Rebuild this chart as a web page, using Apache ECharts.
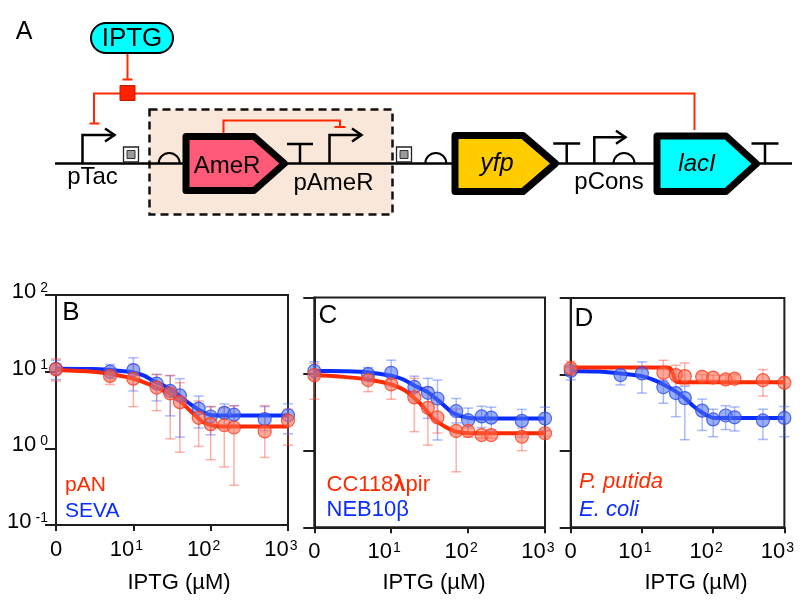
<!DOCTYPE html>
<html><head><meta charset="utf-8">
<script src="https://cdn.jsdelivr.net/npm/echarts@6/dist/echarts.min.js"></script>
<style>html,body{margin:0;padding:0;background:#fff}#c{width:804px;height:602px}</style>
</head><body><div id="c"></div>
<script>
// ---------------- DATA ----------------
// IPTG concentrations (µM); 0 is drawn at the left end of the log axis (labelled "0")
const conc = [0, 5, 10, 20, 30, 40, 70, 100, 150, 200, 500, 1000];
const ZERO_AT = 1;
const xTickVals = [1, 10, 100, 1000];
const xTickLabels = ['0', '10^1', '10^2', '10^3'];
const yTickVals = [0.1, 1, 10, 100];
const yTickLabels = ['10^-1', '10^0', '10^1', '10^2'];

// Panel B: pAN (red) vs SEVA (blue)
const bBlue   = [10.9, 10.0, 10.5, 7.0, 5.6, 4.9, 3.3, 2.6, 2.9, 2.75, 2.4, 2.7];
const bBlueHi = [14.1, 12.4, 15.2, 9.2, 8.9, 8.1, 4.8, 3.5, 3.8, 3.6, 3.5, 3.8];
const bBlueLo = [7.9, 8.1, 5.6, 4.15, 2.65, 1.4, 1.84, 1.5, 2.0, 2.0, 1.7, 1.55];
const bRed    = [10.7, 8.8, 8.1, 6.2, 5.2, 4.0, 2.5, 2.07, 2.0, 1.87, 1.66, 2.3];
const bRedHi  = [14.7, 11.0, 12.4, 9.2, 8.9, 7.2, 4.15, 3.5, 3.4, 3.6, 3.6, 3.25];
const bRedLo  = [7.55, 6.8, 3.5, 3.1, 1.33, 0.89, 1.06, 0.71, 0.57, 0.33, 0.76, 1.1];
const bBlueFitX = [1, 3, 5, 7, 10, 14, 18, 24, 30, 40, 57, 80, 103, 140, 1000];
const bBlueFitY = [10.9, 10.8, 10.5, 10.2, 9.8, 8.8, 7.6, 6.7, 5.9, 4.8, 3.65, 2.95, 2.7, 2.68, 2.68];
const bRedFitX  = [1, 3, 5, 7, 10, 14, 18, 24, 30, 40, 57, 80, 103, 132, 1000];
const bRedFitY  = [10.5, 10.0, 9.4, 8.8, 8.1, 7.2, 6.5, 5.7, 5.1, 4.15, 2.95, 2.2, 2.0, 1.93, 1.93];

// Panel C: CC118λpir (red) vs NEB10β (blue)
const cBlue   = [11.0, 10.0, 10.4, 6.8, 5.7, 4.8, 3.3, 2.5, 2.8, 2.7, 2.45, 2.63];
const cBlueHi = [14.5, 12.2, 15.2, 9.4, 8.8, 8.35, 4.8, 3.6, 3.8, 3.7, 3.46, 3.7];
const cBlueLo = [8.8, 7.9, 7.0, 4.6, 2.64, 1.38, 2.3, 1.7, 2.0, 1.85, 1.5, 1.85];
const cRed    = [9.7, 8.35, 7.35, 4.97, 3.63, 2.72, 1.81, 1.81, 1.6, 1.6, 1.52, 1.69];
const cRedHi  = [13.8, 9.2, 8.5, 8.8, 6.7, 4.6, 3.5, 2.0, 1.75, 1.75, 1.97, 1.8];
const cRedLo  = [4.7, 5.9, 4.7, 1.77, 1.18, 1.7, 0.53, 1.5, 1.45, 1.45, 1.0, 1.55];
const cBlueFitX = [1, 2.4, 5, 10, 14.4, 19.4, 29, 43, 64, 96, 130, 1000];
const cBlueFitY = [11.0, 10.9, 10.6, 9.5, 8.5, 7.2, 5.9, 4.35, 3.1, 2.7, 2.63, 2.63];
const cRedFitX  = [1, 2.4, 5, 10, 13, 15.9, 19.4, 23.7, 29, 35, 43, 52.7, 71, 106, 1000];
const cRedFitY  = [9.7, 9.2, 8.5, 7.35, 6.6, 5.9, 5.0, 4.15, 3.3, 2.65, 2.27, 2.0, 1.77, 1.69, 1.69];

// Panel D: P. putida (red) vs E. coli (blue)
const dBlue   = [11.1, 9.8, 10.3, 6.8, 5.7, 4.9, 3.36, 2.58, 2.9, 2.75, 2.5, 2.7];
const dBlueHi = [12.5, 12.0, 14.6, 8.4, 8.5, 7.0, 4.75, 3.5, 3.9, 3.75, 3.5, 3.8];
const dBlueLo = [8.5, 7.3, 5.7, 4.2, 2.8, 1.4, 1.85, 1.53, 1.9, 1.82, 1.41, 1.53];
const dRed    = [12.0, null, null, 10.5, 9.8, 9.5, 9.3, 9.1, 8.6, 8.8, 8.4, 7.8];
const dRedHi  = [14.8, null, null, 15.3, 13.2, 14.1, 10.0, 9.8, 9.8, 10.0, 11.6, 9.0];
const dRedLo  = [9.8, null, null, 7.65, 8.0, 7.3, 8.5, 8.4, 7.5, 7.7, 5.2, 7.5];
const dBlueFitX = [1, 2.4, 5, 10, 14, 20, 29, 40, 52, 69, 87, 106, 1000];
const dBlueFitY = [11.1, 10.9, 10.3, 9.5, 8.6, 7.4, 6.1, 4.9, 3.9, 3.2, 2.84, 2.7, 2.7];
const dRedFitX  = [1, 10, 22, 25, 27, 29, 31, 40, 1000];
const dRedFitY  = [12.3, 12.3, 12.3, 12.0, 10.5, 8.6, 7.95, 7.9, 7.9];

// ---------------- STYLE ----------------
const FONT = 'Liberation Sans, Arial, Helvetica, sans-serif';
const RED = '#ff2a00', BLUE = '#0a2cff';
const AX = '#1e1e1e';
const xPos = conc.map(c => c === 0 ? ZERO_AT : c);

function pts(ys) { const o = []; ys.forEach((y, i) => { if (y != null) o.push([xPos[i], y]); }); return o; }
function bars(lo, hi) { const o = []; lo.forEach((l, i) => { if (l != null) o.push([xPos[i], l, hi[i]]); }); return o; }
function fit(xs, ys) { return xs.map((x, i) => [x, ys[i]]); }

function errSeries(idx, lo, hi, color) {
  return {
    type: 'custom', xAxisIndex: idx, yAxisIndex: idx, z: 2, silent: true,
    data: bars(lo, hi), encode: { x: 0, y: [1, 2] },
    renderItem: function (params, api) {
      const x = api.value(0);
      const a = api.coord([x, api.value(1)]);
      const b = api.coord([x, api.value(2)]);
      const w = 5, st = { stroke: color, lineWidth: 1.5 };
      return { type: 'group', children: [
        { type: 'line', shape: { x1: a[0], y1: a[1], x2: b[0], y2: b[1] }, style: st },
        { type: 'line', shape: { x1: a[0] - w, y1: a[1], x2: a[0] + w, y2: a[1] }, style: st },
        { type: 'line', shape: { x1: b[0] - w, y1: b[1], x2: b[0] + w, y2: b[1] }, style: st }
      ]};
    }
  };
}
function fitSeries(idx, xs, ys, color) {
  return { type: 'line', xAxisIndex: idx, yAxisIndex: idx, z: 3, silent: true,
    data: fit(xs, ys), showSymbol: false, smooth: 0.25,
    lineStyle: { color: color, width: 4 } };
}
function ptSeries(idx, ys, fill, border) {
  return { type: 'scatter', xAxisIndex: idx, yAxisIndex: idx, z: 4, silent: true,
    data: pts(ys), symbolSize: 13,
    itemStyle: { color: fill, borderColor: border, borderWidth: 1.2 } };
}

const BLUE_ERR = 'rgba(50,90,255,0.42)', RED_ERR = 'rgba(255,70,50,0.42)';
const BLUE_PT = 'rgba(80,115,240,0.72)', RED_PT = 'rgba(255,105,80,0.72)';
const BLUE_PB = '#2a4af0', RED_PB = '#ff3a18';

const panels = [
  [bBlueLo, bBlueHi, bRedLo, bRedHi, bBlueFitX, bBlueFitY, bRedFitX, bRedFitY, bBlue, bRed],
  [cBlueLo, cBlueHi, cRedLo, cRedHi, cBlueFitX, cBlueFitY, cRedFitX, cRedFitY, cBlue, cRed],
  [dBlueLo, dBlueHi, dRedLo, dRedHi, dBlueFitX, dBlueFitY, dRedFitX, dRedFitY, dBlue, dRed]
];
const series = [];
panels.forEach((p, i) => {
  series.push(errSeries(i, p[0], p[1], BLUE_ERR));
  series.push(errSeries(i, p[2], p[3], RED_ERR));
  series.push(fitSeries(i, p[4], p[5], BLUE));
  series.push(fitSeries(i, p[6], p[7], RED));
  series.push(ptSeries(i, p[8], BLUE_PT, BLUE_PB));
  series.push(ptSeries(i, p[9], RED_PT, RED_PB));
});

const grids = [
  { left: 56, top: 295, width: 232, height: 230 },
  { left: 314.3, top: 297.5, width: 230.7, height: 229.8 },
  { left: 570.7, top: 298, width: 228.6, height: 229.3 }
].map(g => Object.assign({ show: true, borderColor: AX, borderWidth: 2, backgroundColor: 'transparent' }, g));

function xLab(v) {
  const i = xTickVals.findIndex(t => Math.abs(t - v) / t < 1e-6);
  if (i < 0) return '';
  const s = xTickLabels[i];
  if (s.indexOf('^') < 0) return '{a|' + s + '}';
  const [b, e] = s.split('^');
  return '{a|' + b + '}{s|' + e + '}{p|}';
}
function yLab(v) {
  const i = yTickVals.findIndex(t => Math.abs(t - v) / t < 1e-6);
  if (i < 0) return '';
  const [b, e] = yTickLabels[i].split('^');
  return '{a|' + b + '}{s|' + e + '}';
}
const xAxes = [0, 1, 2].map(i => ({
  type: 'log', logBase: 10, min: 1, max: 1000, interval: 1, gridIndex: i,
  axisLine: { show: true, lineStyle: { color: AX, width: 2 } },
  axisTick: { show: true, length: 6, lineStyle: { color: AX, width: 2 } },
  splitLine: { show: false }, minorTick: { show: false },
  axisLabel: { show: true, margin: 14, formatter: xLab, fontFamily: FONT, color: '#000',
    rich: { a: { fontSize: 22, fontFamily: FONT, color: '#000' },
            s: { fontSize: 14, fontFamily: FONT, color: '#000', verticalAlign: 'top', padding: [0, 0, 0, 1] },
            p: { width: 14 } } }
}));
const yAxes = [0, 1, 2].map(i => ({
  type: 'log', logBase: 10, min: 0.1, max: 100, interval: 1, gridIndex: i,
  axisLine: { show: true, lineStyle: { color: AX, width: 2 } },
  axisTick: { show: true, length: 11, lineStyle: { color: AX, width: 2 } },
  splitLine: { show: false }, minorTick: { show: false },
  axisLabel: { show: i === 0, margin: 8, formatter: yLab, padding: [0, 0, 6, 0],
    rich: { a: { fontSize: 22, fontFamily: FONT, color: '#000' },
            s: { fontSize: 14, fontFamily: FONT, color: '#000', verticalAlign: 'top', padding: [0, 0, 0, 4] } } }
}));

// ---------------- DIAGRAM (panel A) + texts ----------------
function T(text, x, y, size, extra) {
  return { type: 'text', x: x, y: y, z: 10,
    style: Object.assign({ text: text, fontSize: size, fontFamily: FONT, fill: '#000',
      align: 'center', verticalAlign: 'middle' }, extra || {}) };
}
function L(points, color, lw, extra) {
  return { type: 'polyline', z: 5, shape: { points: points },
    style: Object.assign({ stroke: color, lineWidth: lw, fill: null }, extra || {}) };
}
function gene(x0, x1, xs, y0, y1, fill) {
  const ym = (y0 + y1) / 2;
  return { type: 'polygon', z: 7, shape: { points: [[x0, y0], [xs, y0], [x1, ym], [xs, y1], [x0, y1]] },
    style: { fill: fill, stroke: '#000', lineWidth: 7, lineJoin: 'round' } };
}
function rbs(cx) {
  return { type: 'arc', z: 6, shape: { cx: cx, cy: 163.5, r: 10.5, startAngle: Math.PI, endAngle: 2 * Math.PI, clockwise: true },
    style: { stroke: '#000', lineWidth: 2, fill: 'none' } };
}
function insul(x) {
  return [
    { type: 'rect', z: 6, shape: { x: x, y: 147, width: 15, height: 15 }, style: { fill: '#fff', stroke: '#222', lineWidth: 1.3 } },
    { type: 'rect', z: 6, shape: { x: x + 3.5, y: 150.5, width: 8, height: 8 }, style: { fill: '#9a9a9a', stroke: '#333', lineWidth: 1 } }
  ];
}
function promoter(x, yTop, xEnd) {
  return [
    L([[x, 163.5], [x, yTop], [xEnd, yTop]], '#000', 2.5),
    L([[xEnd - 9.5, yTop - 6.5], [xEnd, yTop], [xEnd - 9.5, yTop + 6.5]], '#000', 2.5)
  ];
}
function term(x, yTop, half) {
  return [L([[x, 163.5], [x, yTop]], '#000', 2.5), L([[x - half, yTop], [x + half, yTop]], '#000', 2.5)];
}

const graphic = [].concat(
  [{ type: 'rect', z: 4, shape: { x: 149.5, y: 109.5, width: 243, height: 105 },
     style: { fill: '#f9e7d9', stroke: '#111', lineWidth: 2.5, lineDash: [8, 5] } }],
  [L([[55, 163.5], [792, 163.5]], '#000', 2.5)],
  [L([[94, 123.5], [94, 93.5], [694.5, 93.5], [694.5, 130]], RED, 2),
   L([[89.5, 123.5], [99.5, 123.5]], RED, 2),
   L([[127.5, 54], [127.5, 79.5]], RED, 2),
   L([[122.5, 79.5], [132.5, 79.5]], RED, 2),
   { type: 'rect', z: 6, shape: { x: 120, y: 85.5, width: 15, height: 15 }, style: { fill: '#ff2200', stroke: '#d01800', lineWidth: 1 } },
   { type: 'rect', z: 6, shape: { x: 91, y: 23, width: 82, height: 30, r: 15 }, style: { fill: '#00ffff', stroke: '#000', lineWidth: 2 } },
   T('IPTG', 132, 38.5, 26),
   T('A', 24, 32, 25)],
  promoter(82.5, 135, 114.5),
  insul(123.5),
  [rbs(169.2)],
  [L([[223.5, 135], [223.5, 120.5], [340, 120.5], [340, 127]], RED, 2),
   L([[334.5, 127], [345.5, 127]], RED, 2)],
  [gene(186, 284.5, 254, 136.5, 190.5, '#ff5a78'), T('AmeR', 227, 166, 24)],
  term(300, 144, 13),
  promoter(329.5, 135, 361.5),
  insul(396.5),
  [rbs(435.8)],
  [gene(455, 555.5, 523, 135.5, 191.5, '#ffcc00'), T('yfp', 497, 164, 25, { fontStyle: 'italic' })],
  term(566.7, 143.5, 13.5),
  promoter(594.3, 137.3, 625.5),
  [rbs(624)],
  [gene(657, 756.5, 726, 136, 191.5, '#00ffff'), T('lacI', 697, 164, 24, { fontStyle: 'italic' })],
  term(765, 143.5, 13.5),
  [T('pTac', 92.5, 177, 24), T('pAmeR', 333.5, 183, 24), T('pCons', 609, 182, 24)],
  // panel letters and legends
  [T('B', 71, 313, 26), T('C', 328, 316, 26), T('D', 584, 319, 26),
   T('pAN', 65, 485, 21, { align: 'left', fill: RED }),
   T('SEVA', 65, 511.5, 21, { align: 'left', fill: BLUE }),
   T('CC118{b|λ}pir', 326.5, 485, 22, { align: 'left', fill: RED,
      rich: { b: { fontSize: 22, fontWeight: 'bold', fontFamily: FONT, fill: RED } } }),
   T('NEB10β', 326.5, 509.5, 22, { align: 'left', fill: BLUE }),
   T('P. putida', 579, 482, 22, { align: 'left', fill: RED, fontStyle: 'italic' }),
   T('E. coli', 579, 510, 22, { align: 'left', fill: BLUE, fontStyle: 'italic' }),
   T('IPTG (µM)', 179, 583, 22), T('IPTG (µM)', 434, 583, 22), T('IPTG (µM)', 696, 583, 22)]
);

const chart = echarts.init(document.getElementById('c'), null, { renderer: 'canvas' });
chart.setOption({
  backgroundColor: '#fff', animation: false,
  textStyle: { fontFamily: FONT },
  grid: grids, xAxis: xAxes, yAxis: yAxes, series: series, graphic: graphic
});
</script></body></html>
